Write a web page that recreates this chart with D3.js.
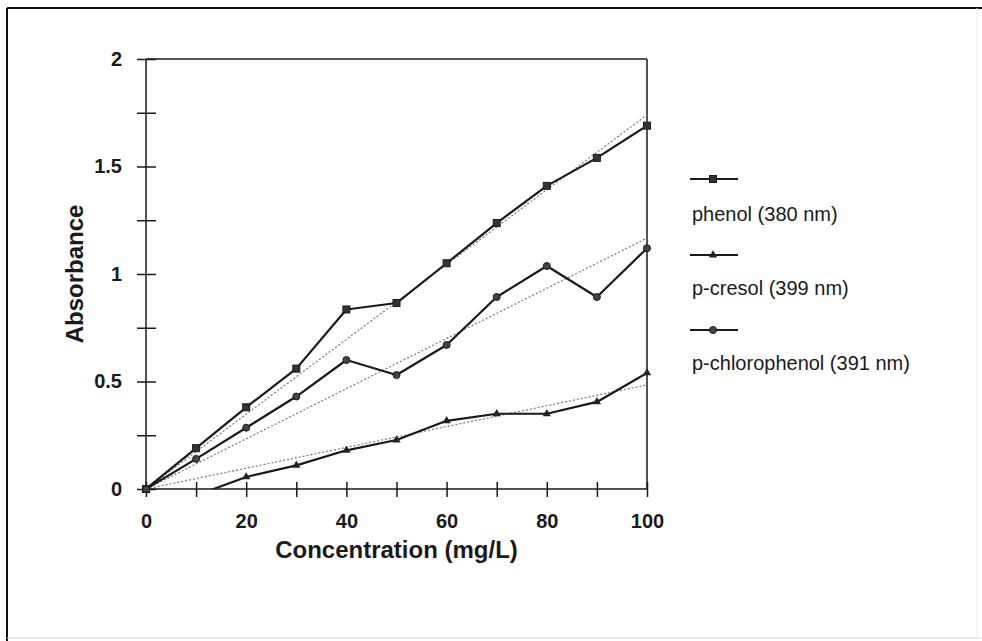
<!DOCTYPE html>
<html>
<head>
<meta charset="utf-8">
<script src="https://cdn.jsdelivr.net/npm/d3@7"></script>
<style>
  html, body { margin: 0; padding: 0; background: #fff; }
  svg { display: block; font-family: "Liberation Sans", Arial, sans-serif; }
</style>
</head>
<body>
<svg id="chart" width="982" height="641"></svg>
<script>
// ---- data ----
const concentrations = [0, 10, 20, 30, 40, 50, 60, 70, 80, 90, 100];
const phenol        = [0, 0.19, 0.38, 0.56, 0.835, 0.865, 1.05, 1.237, 1.41, 1.54, 1.69];
const pCresol       = [0, -0.03, 0.056, 0.11, 0.18, 0.228, 0.317, 0.35, 0.35, 0.405, 0.54];
const pChlorophenol = [0, 0.14, 0.285, 0.43, 0.60, 0.53, 0.67, 0.893, 1.037, 0.893, 1.12];
const seriesNames   = ["phenol (380 nm)", "p-cresol (399 nm)", "p-chlorophenol (391 nm)"];
const markerTypes   = ["square", "triangle", "circle"];
// linear trend lines (value at 0 and at 100)
const trendX        = [0, 100];
const trendPhenol   = [0, 1.74];
const trendCresol   = [0, 0.484];
const trendChloro   = [0, 1.167];
const xTickValues   = [0, 10, 20, 30, 40, 50, 60, 70, 80, 90, 100];
const xTickLabels   = ["0", "", "20", "", "40", "", "60", "", "80", "", "100"];
const yTickValues   = [0, 0.25, 0.5, 0.75, 1, 1.25, 1.5, 1.75, 2];
const yTickLabels   = ["0", "", "0.5", "", "1", "", "1.5", "", "2"];
const xTitle = "Concentration (mg/L)";
const yTitle = "Absorbance";

// ---- layout ----
const svg = d3.select("#chart");
const x = d3.scaleLinear().domain([0, 100]).range([146, 647]);
const y = d3.scaleLinear().domain([0, 2]).range([489, 59]);
const ink = "#1a1a1a";

// outer frame
svg.append("line").attr("x1", 7).attr("x2", 982).attr("y1", 8).attr("y2", 8)
  .attr("stroke", "#111").attr("stroke-width", 2);
svg.append("line").attr("x1", 7).attr("x2", 7).attr("y1", 8).attr("y2", 641)
  .attr("stroke", "#111").attr("stroke-width", 2);
svg.append("line").attr("x1", 7).attr("x2", 982).attr("y1", 638).attr("y2", 638)
  .attr("stroke", "#d8d8d8").attr("stroke-width", 1);
svg.append("line").attr("x1", 977).attr("x2", 977).attr("y1", 8).attr("y2", 638)
  .attr("stroke", "#ececec").attr("stroke-width", 1);

// plot frame top/right
svg.append("line").attr("x1", x(0)).attr("x2", x(100)).attr("y1", y(2)).attr("y2", y(2))
  .attr("stroke", ink).attr("stroke-width", 1.5);
svg.append("line").attr("x1", x(100)).attr("x2", x(100)).attr("y1", y(2)).attr("y2", y(0))
  .attr("stroke", ink).attr("stroke-width", 1.5);

// y axis
const yAxis = svg.append("g").attr("transform", `translate(${x(0)},0)`)
  .call(d3.axisLeft(y).tickValues(yTickValues).tickSize(9).tickPadding(15)
    .tickFormat((d, i) => yTickLabels[i]));
yAxis.select(".domain").attr("stroke", ink).attr("stroke-width", 1.5).attr("d", `M0,${y(2)}V${y(0)}`);
yAxis.selectAll(".tick line").attr("x1", 10).attr("x2", -9).attr("stroke", ink).attr("stroke-width", 1.5);
yAxis.selectAll(".tick text").attr("font-size", 20).attr("font-weight", "bold")
  .attr("fill", ink).attr("font-family", "Liberation Sans, Arial, sans-serif");

// x axis
const xAxis = svg.append("g").attr("transform", `translate(0,${y(0)})`)
  .call(d3.axisBottom(x).tickValues(xTickValues).tickSize(8).tickPadding(17)
    .tickFormat((d, i) => xTickLabels[i]));
xAxis.select(".domain").attr("stroke", ink).attr("stroke-width", 1.5).attr("d", `M${x(0)},0H${x(100)}`);
xAxis.selectAll(".tick line").attr("y1", -7).attr("y2", 8).attr("stroke", ink).attr("stroke-width", 1.5);
xAxis.selectAll(".tick text").attr("font-size", 20).attr("font-weight", "bold")
  .attr("fill", ink).attr("font-family", "Liberation Sans, Arial, sans-serif");

// titles
svg.append("text").attr("x", x(50)).attr("y", 558).attr("text-anchor", "middle")
  .attr("font-size", 24).attr("font-weight", "bold").attr("fill", ink).text(xTitle);
svg.append("text").attr("transform", `translate(83,${(y(0) + y(2)) / 2}) rotate(-90)`)
  .attr("text-anchor", "middle").attr("font-size", 24).attr("font-weight", "bold")
  .attr("fill", ink).text(yTitle);

// clip
svg.append("clipPath").attr("id", "plotclip").append("rect")
  .attr("x", x(0)).attr("y", y(2)).attr("width", x(100) - x(0)).attr("height", y(0) - y(2));

// trend lines
const trends = [trendPhenol, trendCresol, trendChloro];
const line = d3.line().x(d => x(d[0])).y(d => y(d[1]));
trends.forEach(t => {
  svg.append("path").attr("d", line(trendX.map((c, i) => [c, t[i]])))
    .attr("fill", "none").attr("stroke", "#777").attr("stroke-width", 1.2)
    .attr("stroke-dasharray", "2,2");
});

// data lines
const allSeries = [phenol, pCresol, pChlorophenol];
function drawMarker(g, type, cx, cy) {
  if (type === "square") {
    g.append("rect").attr("x", cx - 3.5).attr("y", cy - 3.5).attr("width", 7).attr("height", 7)
      .attr("fill", "#333").attr("stroke", ink).attr("stroke-width", 1);
  } else if (type === "triangle") {
    g.append("path").attr("d", d3.symbol(d3.symbolTriangle, 30)())
      .attr("transform", `translate(${cx},${cy})`).attr("fill", "#222");
  } else {
    g.append("circle").attr("cx", cx).attr("cy", cy).attr("r", 3.5)
      .attr("fill", "#444").attr("stroke", ink).attr("stroke-width", 1);
  }
}
allSeries.forEach((s, k) => {
  const pts = concentrations.map((c, i) => [c, s[i]]);
  svg.append("path").attr("d", line(pts)).attr("clip-path", "url(#plotclip)")
    .attr("fill", "none").attr("stroke", ink).attr("stroke-width", 2.2)
    .attr("stroke-linejoin", "round");
  const g = svg.append("g");
  pts.filter(p => p[1] >= 0).forEach(p => drawMarker(g, markerTypes[k], x(p[0]), y(p[1])));
});

// legend
const legendLineY = [179, 255, 330];
const legendTextY = [221, 295, 370];
seriesNames.forEach((name, k) => {
  const g = svg.append("g");
  g.append("line").attr("x1", 690).attr("x2", 738).attr("y1", legendLineY[k]).attr("y2", legendLineY[k])
    .attr("stroke", ink).attr("stroke-width", 2);
  drawMarker(g, markerTypes[k], 713, legendLineY[k]);
  g.append("text").attr("x", 692).attr("y", legendTextY[k]).attr("font-size", 20)
    .attr("fill", ink).text(name);
});
</script>
</body>
</html>
